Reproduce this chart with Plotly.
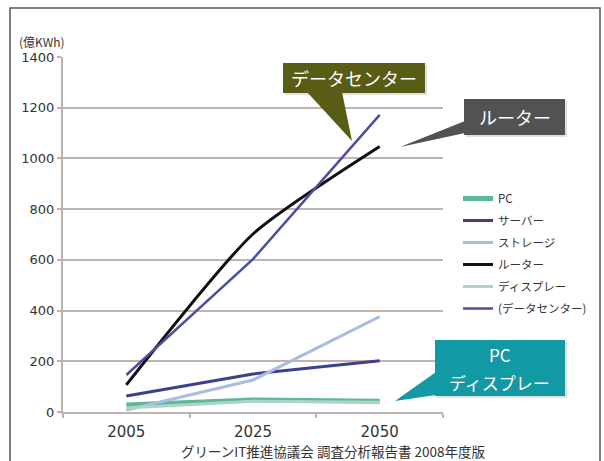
import plotly.graph_objects as go

# Power consumption forecast (100 million kWh) by equipment type
years = ["2005", "2025", "2050"]
pc = [28, 47, 42]
server = [63, 150, 202]
storage = [8, 126, 376]
router = [107, 702, 1047]
display = [16, 42, 38]
datacenter = [146, 603, 1172]

series_names = ["PC", "サーバー", "ストレージ", "ルーター", "ディスプレー", "(データセンター)"]
series_values = [pc, server, storage, router, display, datacenter]
series_colors = ["#5cb89a", "#3c3f8c", "#a9bde0", "#111111", "#add5c4", "#4a4fa0"]
series_widths = [5, 3, 3, 3, 3, 2.5]
series_shapes = ["linear", "linear", "linear", "spline", "linear", "linear"]

y_ticks = [0, 200, 400, 600, 800, 1000, 1200, 1400]

W, H = 604, 461
ML, MR, MT, MB = 63, 161, 57, 49
PW, PH = W - ML - MR, H - MT - MB

JP = "Noto Sans CJK JP"
NUM = "DejaVu Sans"
GRID = "#bfb3ae"


def px(x):
    return (x - ML) / PW


def py(y):
    return (H - MB - y) / PH


fig = go.Figure()
for name, vals, col, wd, shp in zip(series_names, series_values, series_colors,
                                    series_widths, series_shapes):
    fig.add_trace(go.Scatter(
        x=years, y=vals, name=name, mode="lines", legendgroup=name,
        line=dict(color=col, width=wd, shape=shp, smoothing=0.6),
    ))

shapes = []
annotations = []

# outer frame
shapes.append(dict(type="rect", xref="paper", yref="paper",
                   x0=px(10), x1=px(600), y0=py(475), y1=py(8),
                   line=dict(color="#555555", width=1.5), fillcolor="rgba(0,0,0,0)",
                   layer="below"))


def callout(box, tri, color, lines, size):
    x0, y0, x1, y1 = box
    # soft drop shadow
    shapes.append(dict(type="rect", xref="paper", yref="paper",
                       x0=px(x0 + 2), x1=px(x1 + 2), y0=py(y1 + 2), y1=py(y0 + 2),
                       line=dict(width=0), fillcolor="rgba(0,0,0,0.12)"))
    path = "M {} {} L {} {} L {} {} Z".format(
        px(tri[0][0]), py(tri[0][1]), px(tri[1][0]), py(tri[1][1]),
        px(tri[2][0]), py(tri[2][1]))
    shapes.append(dict(type="path", xref="paper", yref="paper", path=path,
                       line=dict(width=0), fillcolor=color))
    shapes.append(dict(type="rect", xref="paper", yref="paper",
                       x0=px(x0), x1=px(x1), y0=py(y1), y1=py(y0),
                       line=dict(width=0), fillcolor=color))
    step = (y1 - y0) / len(lines)
    for i, t in enumerate(lines):
        annotations.append(dict(xref="paper", yref="paper",
                                x=px((x0 + x1) / 2), y=py(y0 + step * (i + 0.5)),
                                text=t, showarrow=False, xanchor="center", yanchor="middle",
                                font=dict(family=JP, size=size, color="white")))


callout((283, 63, 425, 93), [(307, 92), (342, 92), (352, 141)], "#585c14", ["データセンター"], 18)
callout((464, 99, 565, 135), [(465, 121), (465, 133), (400, 147)], "#525252", ["ルーター"], 18)
callout((435, 340, 565, 396), [(436, 372), (436, 395), (395, 401)], "#1399a3",
        ["PC", "ディスプレー"], 17)

annotations.append(dict(xref="paper", yref="paper", x=px(17), y=py(41),
                        text="(億KWh)", showarrow=False, xanchor="left", yanchor="middle",
                        font=dict(family=JP, size=12, color="#333333")))
annotations.append(dict(xref="paper", yref="paper", x=px(333), y=py(451),
                        text="グリーンIT推進協議会 調査分析報告書 2008年度版", showarrow=False,
                        xanchor="center", yanchor="middle",
                        font=dict(family=JP, size=13.5, color="#333333")))

fig.update_layout(
    width=W, height=H,
    margin=dict(l=ML, r=MR, t=MT, b=MB, pad=0),
    paper_bgcolor="white", plot_bgcolor="white",
    font=dict(family=JP, color="#333333"),
    showlegend=True,
    legend=dict(x=px(458), y=py(184), xanchor="left", yanchor="top",
                font=dict(family=JP, size=11.5, color="#333333"),
                tracegroupgap=3, bgcolor="rgba(0,0,0,0)", itemwidth=30),
    xaxis=dict(type="category", range=[-0.5, 2.5], showgrid=False,
               showline=True, linecolor=GRID, linewidth=2,
               ticks="outside", tickson="boundaries", ticklen=4, tickwidth=2, tickcolor=GRID,
               ticklabelstandoff=5,
               tickfont=dict(family=NUM, size=15, color="#333333")),
    yaxis=dict(range=[0, 1400], tickvals=y_ticks, showgrid=True, gridcolor=GRID, gridwidth=2,
               showline=True, linecolor=GRID, linewidth=2, zeroline=False,
               ticks="outside", ticklen=4, tickwidth=2, tickcolor=GRID,
               tickfont=dict(family=NUM, size=13, color="#333333")),
    shapes=shapes,
    annotations=annotations,
)

fig.write_html("out.html")
